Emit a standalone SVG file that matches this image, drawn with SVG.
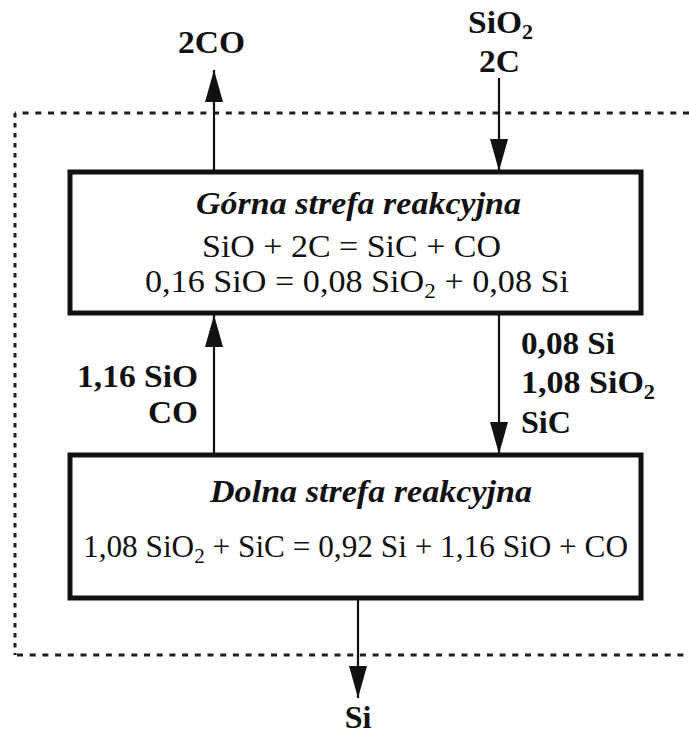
<svg xmlns="http://www.w3.org/2000/svg" width="689" height="735" viewBox="0 0 689 735">
  <style>
    text { font-family: 'Liberation Serif', Tinos, 'Times New Roman', Times, serif; fill: #111; }
    .box { fill: #ffffff; stroke: #111; stroke-width: 5; }
    .flow { stroke: #111; stroke-width: 2.2; fill: none; }
    .bound { stroke: #1c1c2a; stroke-width: 3; fill: none; }
    .lbl { font-weight: bold; font-size: 32px; }
    .ttl { font-weight: bold; font-style: italic; font-size: 32px; }
    .eq { font-size: 31px; }
    .sub { font-size: 21px; }
  </style>
  <defs>
    <marker id="head" markerUnits="userSpaceOnUse" markerWidth="34" markerHeight="20" refX="32" refY="9" orient="auto">
      <path d="M0,0 L32,9 L0,18 Z" fill="#111"/>
    </marker>
  </defs>

  <rect width="689" height="735" fill="#ffffff"/>

  <!-- system boundary (open on the right) -->
  <g id="boundary">
    <path class="bound" d="M689,113 H15" stroke-dasharray="6 6.7"/>
    <path class="bound" d="M15,113 V655" stroke-dasharray="4.5 5.5"/>
    <path class="bound" d="M17,655 H689" stroke-dasharray="6 6.7"/>
  </g>

  <!-- connectors -->
  <g id="connectors">
    <line class="flow" x1="214" y1="172" x2="214" y2="70" marker-end="url(#head)"/>
    <line class="flow" x1="499" y1="78" x2="499" y2="171" marker-end="url(#head)"/>
    <line class="flow" x1="214" y1="455" x2="214" y2="315" marker-end="url(#head)"/>
    <line class="flow" x1="499" y1="313" x2="499" y2="454" marker-end="url(#head)"/>
    <line class="flow" x1="358" y1="598" x2="358" y2="698" marker-end="url(#head)"/>
  </g>

  <!-- upper reaction zone -->
  <g id="upper-zone">
    <rect class="box" x="70" y="172" width="571" height="141"/>
    <text class="ttl" x="196" y="214" textLength="325" lengthAdjust="spacingAndGlyphs">Górna strefa reakcyjna</text>
    <text class="eq" x="202" y="257" textLength="299" lengthAdjust="spacingAndGlyphs">SiO + 2C = SiC + CO</text>
    <text class="eq" x="145" y="292" textLength="424" lengthAdjust="spacingAndGlyphs">0,16 SiO = 0,08 SiO<tspan class="sub" dy="6">2</tspan><tspan dy="-6"> + 0,08 Si</tspan></text>
  </g>

  <!-- lower reaction zone -->
  <g id="lower-zone">
    <rect class="box" x="70" y="455" width="571" height="143"/>
    <text class="ttl" x="210" y="502" textLength="322" lengthAdjust="spacingAndGlyphs">Dolna strefa reakcyjna</text>
    <text class="eq" x="83" y="557" textLength="545" lengthAdjust="spacingAndGlyphs">1,08 SiO<tspan class="sub" dy="6">2</tspan><tspan dy="-6"> + SiC = 0,92 Si + 1,16 SiO + CO</tspan></text>
  </g>

  <!-- stream labels -->
  <g id="labels">
    <text class="lbl" x="178" y="53" textLength="67" lengthAdjust="spacingAndGlyphs">2CO</text>
    <text class="lbl" x="468" y="33" textLength="65" lengthAdjust="spacingAndGlyphs">SiO<tspan class="sub" dy="6">2</tspan></text>
    <text class="lbl" x="479" y="72" textLength="41" lengthAdjust="spacingAndGlyphs">2C</text>
    <text class="lbl" x="77" y="387" textLength="121" lengthAdjust="spacingAndGlyphs">1,16 SiO</text>
    <text class="lbl" x="148" y="423" textLength="50" lengthAdjust="spacingAndGlyphs">CO</text>
    <text class="lbl" x="521" y="354" textLength="94" lengthAdjust="spacingAndGlyphs">0,08 Si</text>
    <text class="lbl" x="521" y="393" textLength="134" lengthAdjust="spacingAndGlyphs">1,08 SiO<tspan class="sub" dy="6">2</tspan></text>
    <text class="lbl" x="521" y="433" textLength="50" lengthAdjust="spacingAndGlyphs">SiC</text>
    <text class="lbl" x="358" y="728" text-anchor="middle">Si</text>
  </g>
</svg>
